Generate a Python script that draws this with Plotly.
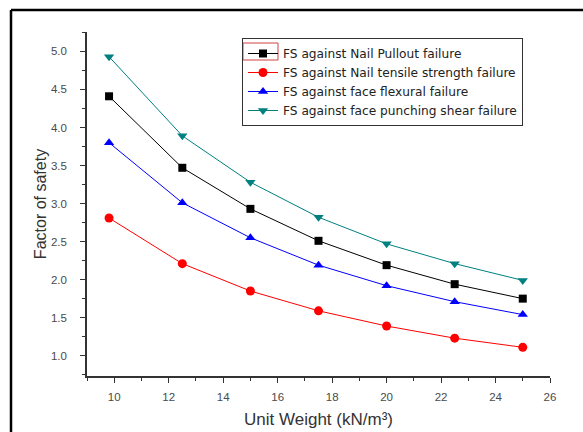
import plotly.graph_objects as go

unit_weight = [9.81, 12.5, 15, 17.5, 20, 22.5, 25]
fs_pullout = [4.41, 3.47, 2.93, 2.51, 2.19, 1.94, 1.75]
fs_tensile = [2.81, 2.21, 1.85, 1.59, 1.39, 1.23, 1.11]
fs_flexural = [3.80, 3.01, 2.55, 2.19, 1.92, 1.71, 1.54]
fs_punching = [4.93, 3.89, 3.28, 2.82, 2.47, 2.21, 1.99]

series_names = [
    "FS against Nail Pullout failure",
    "FS against Nail tensile strength failure",
    "FS against face flexural failure",
    "FS against face punching shear failure",
]
series_values = [fs_pullout, fs_tensile, fs_flexural, fs_punching]
colors = ["#000000", "#FF0000", "#0000FF", "#008080"]
symbols = ["square", "circle", "triangle-up", "triangle-down"]
sizes = [8, 9, 9, 9]

FONT = "Liberation Sans, Arial, sans-serif"
LEG_FONT = "DejaVu Sans, Verdana, sans-serif"

fig = go.Figure()
for name, vals, c, s, sz in zip(series_names, series_values, colors, symbols, sizes):
    fig.add_trace(go.Scatter(
        x=unit_weight, y=vals, name=name, mode="lines+markers",
        line=dict(color=c, width=1),
        marker=dict(color=c, symbol=s, size=sz),
    ))

W, H = 583, 432
ml, mr, mt, mb = 87, 33, 32, 56
pw, ph = W - ml - mr, H - mt - mb

def px_x(x):
    return (x - ml) / pw

def px_y(y):
    return (H - mb - y) / ph

axis_common = dict(
    showline=True, linecolor="#333333", linewidth=1.5,
    ticks="outside", ticklen=5, tickwidth=1.2, tickcolor="#333333",
    showgrid=False, zeroline=False, mirror=False, automargin=False,
    tickfont=dict(family=FONT, size=11.5, color="#4a4a4a"),
    minor=dict(ticks="outside", ticklen=3, tickwidth=1.2, tickcolor="#333333"),
)

fig.update_layout(
    width=W, height=H,
    margin=dict(l=ml, r=mr, t=mt, b=mb, autoexpand=False),
    paper_bgcolor="white", plot_bgcolor="white",
    font=dict(family=FONT, color="#333333"),
    xaxis=dict(
        range=[9, 26], tickmode="linear", tick0=10, dtick=2,
        title=dict(text="Unit Weight (kN/m³)", font=dict(family=FONT, size=17, color="#333333"), standoff=12),
        ticklabelstandoff=4,
        **axis_common,
    ),
    yaxis=dict(
        range=[0.733, 5.255], tickmode="linear", tick0=1.0, dtick=0.5, tickformat=".1f",
        title=dict(text="Factor of safety", font=dict(family=FONT, size=16, color="#333333"), standoff=0),
        ticklabelstandoff=11,
        **axis_common,
    ),
    legend=dict(
        x=px_x(242), y=px_y(38), xanchor="left", yanchor="top",
        bgcolor="rgba(255,255,255,0)", bordercolor="#333333", borderwidth=1,
        font=dict(family=LEG_FONT, size=12.2, color="#222222"),
        itemwidth=30, tracegroupgap=0,
    ),
    showlegend=True,
)
fig.update_xaxes(minor=dict(dtick=1))
fig.update_yaxes(minor=dict(dtick=0.25))

# outer frame (top and left borders of the original figure frame)
fig.add_shape(type="line", xref="paper", yref="paper",
              x0=px_x(11), x1=px_x(600), y0=px_y(10), y1=px_y(10),
              line=dict(color="black", width=2.5))
fig.add_shape(type="line", xref="paper", yref="paper",
              x0=px_x(11), x1=px_x(11), y0=px_y(10), y1=px_y(450),
              line=dict(color="black", width=2.5))
# red selection box around first legend symbol
fig.add_shape(type="rect", xref="paper", yref="paper", layer="above",
              x0=px_x(243), x1=px_x(278), y0=px_y(43), y1=px_y(60),
              line=dict(color="#d04040", width=1))

fig.write_html(
    "out.html",
    config={"displayModeBar": False},
    post_script="document.body.style.margin='0';document.body.style.overflow='hidden';",
)
